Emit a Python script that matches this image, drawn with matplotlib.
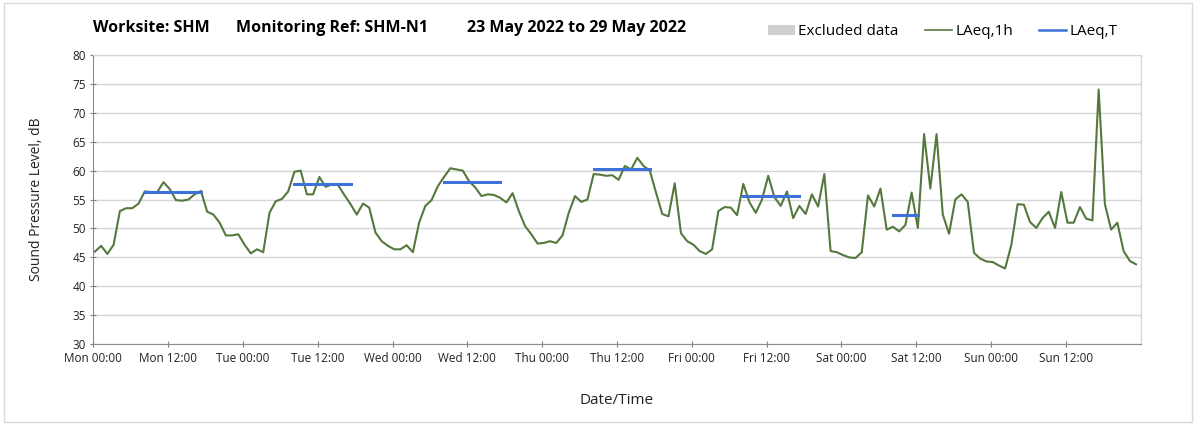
import numpy as np
import matplotlib.pyplot as plt
from matplotlib.patches import Patch, Rectangle
from matplotlib.lines import Line2D

plt.rcParams['font.family'] = ['Open Sans', 'DejaVu Sans']

# hourly LAeq,1h values (dB), one list per day, 00:00 .. 23:00
mon = [46.0, 47.0, 45.6, 47.2, 53.0, 53.5, 53.5, 54.3, 56.4, 56.3, 56.3, 58.0,
       56.8, 54.9, 54.8, 55.0, 55.9, 56.5, 52.9, 52.4, 51.0, 48.8, 48.8, 49.0]
tue = [47.2, 45.7, 46.4, 45.9, 52.7, 54.7, 55.1, 56.4, 59.8, 60.0, 55.9, 55.9,
       58.9, 57.2, 57.6, 57.5, 55.8, 54.2, 52.4, 54.3, 53.6, 49.3, 47.8, 47.0]
wed = [46.4, 46.4, 47.1, 45.9, 51.0, 53.9, 54.9, 57.3, 58.9, 60.4, 60.2, 60.0,
       58.2, 57.1, 55.6, 55.9, 55.8, 55.3, 54.5, 56.1, 53.0, 50.4, 49.0, 47.4]
thu = [47.5, 47.8, 47.5, 48.8, 52.7, 55.6, 54.6, 55.0, 59.4, 59.3, 59.1, 59.2,
       58.4, 60.8, 60.2, 62.2, 60.8, 60.0, 56.2, 52.5, 52.1, 57.8, 49.2, 47.8]
fri = [47.2, 46.1, 45.6, 46.4, 53.0, 53.7, 53.6, 52.3, 57.7, 54.5, 52.7, 55.0,
       59.1, 55.4, 53.9, 56.4, 51.8, 53.9, 52.5, 55.9, 53.8, 59.4, 46.1, 45.9]
sat = [45.4, 45.0, 44.9, 45.9, 55.7, 53.8, 56.9, 49.8, 50.3, 49.5, 50.6, 56.2,
       50.1, 66.3, 56.9, 66.3, 52.4, 49.1, 55.0, 55.9, 54.6, 45.8, 44.8, 44.3]
sun = [44.2, 43.6, 43.1, 47.2, 54.2, 54.1, 51.1, 50.1, 51.8, 52.9, 50.1, 56.3,
       51.0, 51.0, 53.7, 51.7, 51.4, 74.0, 54.2, 49.8, 51.0, 46.1, 44.4, 43.8]

# LAeq,T over the working periods (first and last hour index of each period)
period_start = [8, 32, 56, 80, 104, 128]
period_end = [17, 41, 65, 89, 113, 132]
laeq_t = [56.3, 57.7, 58.1, 60.2, 55.6, 52.3]

days = ['Mon', 'Tue', 'Wed', 'Thu', 'Fri', 'Sat', 'Sun']
tick_labels = [f'{d} {t}' for d in days for t in ('00:00', '12:00')]

laeq_1h = np.array(mon + tue + wed + thu + fri + sat + sun)
hours = np.arange(len(laeq_1h)) + 0.25

green = '#55783E'
blue = '#3F72D8'
grid = '#D6D6D6'

fig = plt.figure(figsize=(11.97, 4.25), dpi=100)
ax = fig.add_axes([0.078, 0.19, 0.875, 0.681])

ax.plot(hours, laeq_1h, color=green, lw=1.5, zorder=3)
for s, e, v in zip(period_start, period_end, laeq_t):
    ax.plot([hours[s], hours[e]], [v, v], color=blue, lw=2.2, zorder=4)

ax.set_xlim(0, 168)
ax.set_ylim(30, 80)
ax.set_yticks(np.arange(30, 81, 5))
ax.set_xticks(np.arange(0, 168, 12))
ax.set_xticklabels(tick_labels)
ax.set_xticks(np.arange(0, 169, 24), minor=True)
ax.grid(axis='y', color=grid, lw=1)
ax.grid(axis='x', which='minor', color=grid, lw=1)
ax.set_axisbelow(True)
ax.tick_params(axis='both', labelsize=8.5, colors='#7F7F7F', labelcolor='#222222',
               length=4, direction='inout')
ax.tick_params(axis='x', which='minor', length=0)
for side in ['top', 'right']:
    ax.spines[side].set_color(grid)
for side in ['left', 'bottom']:
    ax.spines[side].set_color('#8C8C8C')

ax.set_ylabel('Sound Pressure Level, dB', fontsize=10, color='#222222', labelpad=20)
ax.set_xlabel('Date/Time', fontsize=11, color='#222222', labelpad=20)

fig.text(0.078, 0.935, 'Worksite: SHM', fontsize=11.5, fontweight='bold', va='center')
fig.text(0.197, 0.935, 'Monitoring Ref: SHM-N1', fontsize=11.5, fontweight='bold', va='center')
fig.text(0.390, 0.935, '23 May 2022 to 29 May 2022', fontsize=11.5, fontweight='bold', va='center')

handles = [Patch(facecolor='#D0D0D0', edgecolor='none'),
           Line2D([], [], color=green, lw=1.2),
           Line2D([], [], color=blue, lw=1.8)]
fig.legend(handles, ['Excluded data', 'LAeq,1h', 'LAeq,T'], loc='center right',
           bbox_to_anchor=(0.945, 0.925), ncol=3, frameon=False, fontsize=11,
           handlelength=1.8, handletextpad=0.2, columnspacing=1.7)

fig.add_artist(Rectangle((0.003, 0.006), 0.993, 0.988, transform=fig.transFigure,
                         fill=False, edgecolor='#D9D9D9', lw=1))

fig.savefig('out.png', dpi=100)
